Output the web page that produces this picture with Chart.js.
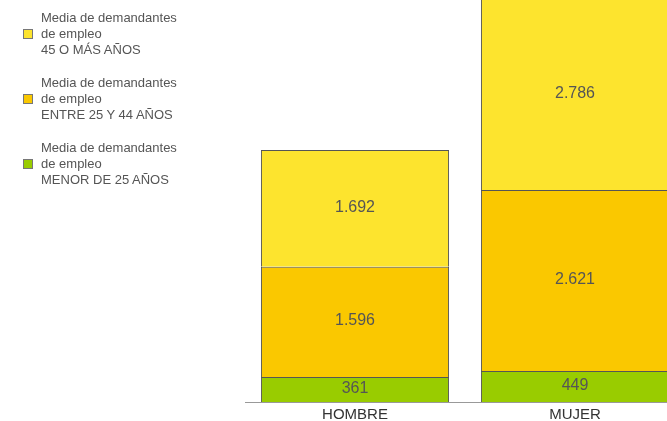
<!DOCTYPE html>
<html>
<head>
<meta charset="utf-8">
<script src="https://cdn.jsdelivr.net/npm/chart.js@4.4.1/dist/chart.umd.min.js"></script>
<style>
  html, body { margin: 0; padding: 0; overflow: hidden; background: #fff; }
  #wrap { position: relative; width: 667px; height: 421px; overflow: hidden; }
  #chart { position: absolute; left: 0; top: 0; }
  #legend { position: absolute; left: 0; top: 0; font-family: "Liberation Sans", Arial, sans-serif; font-size: 13px; color: #555; }
  .item { position: absolute; left: 41px; line-height: 16px; white-space: nowrap; }
  .box { position: absolute; left: -18px; top: 19px; width: 8px; height: 8px; border: 1px solid #777; }
</style>
</head>
<body>
<div id="wrap">
  <canvas id="chart" width="685" height="421"></canvas>
  <div id="legend"></div>
</div>
<script>
const categories = ['HOMBRE', 'MUJER'];
const seriesNames = [
  ['Media de demandantes', 'de empleo', 'MENOR DE 25 AÑOS'],
  ['Media de demandantes', 'de empleo', 'ENTRE 25 Y 44 AÑOS'],
  ['Media de demandantes', 'de empleo', '45 O MÁS AÑOS']
];
const menor25 = [361, 449];
const entre25y44 = [1596, 2621];
const mas45 = [1692, 2786];
const colors = ['#99CC00', '#FAC800', '#FDE42E'];

const seriesValues = [menor25, entre25y44, mas45];

function fmt(v) {
  return String(v).replace(/\B(?=(\d{3})+(?!\d))/g, '.');
}

// legend, top to bottom = reverse of stack order
const legend = document.getElementById('legend');
[2, 1, 0].forEach((s, k) => {
  const item = document.createElement('div');
  item.className = 'item';
  item.style.top = (10 + k * 65) + 'px';
  item.innerHTML = seriesNames[s].join('<br>');
  const box = document.createElement('span');
  box.className = 'box';
  box.style.background = colors[s];
  item.appendChild(box);
  legend.appendChild(item);
});

const valueLabels = {
  id: 'valueLabels',
  afterDatasetsDraw(chart) {
    const { ctx, chartArea } = chart;
    ctx.save();
    ctx.font = '16px "Liberation Sans", Arial, sans-serif';
    ctx.fillStyle = '#555';
    ctx.textAlign = 'center';
    ctx.textBaseline = 'middle';
    chart.data.datasets.forEach((ds, i) => {
      chart.getDatasetMeta(i).data.forEach((bar, j) => {
        const top = Math.max(bar.y, chartArea.top);
        ctx.fillText(fmt(ds.data[j]), bar.x, (top + bar.base) / 2 - 1);
      });
    });
    ctx.restore();
  }
};

new Chart(document.getElementById('chart'), {
  type: 'bar',
  data: {
    labels: categories,
    datasets: seriesValues.map((vals, i) => ({
      label: seriesNames[i].join(' '),
      data: vals,
      backgroundColor: colors[i],
      borderColor: '#555',
      borderWidth: 1,
      barPercentage: 0.855,
      categoryPercentage: 1
    }))
  },
  options: {
    responsive: false,
    animation: false,
    layout: { padding: { left: 245, right: 0, top: 0, bottom: 0 } },
    plugins: { legend: { display: false }, tooltip: { enabled: false } },
    scales: {
      x: {
        stacked: true,
        offset: true,
        grid: { display: false, drawTicks: false },
        border: { display: true, color: '#999', width: 1 },
        ticks: { color: '#333', padding: 4, font: { family: 'Liberation Sans', size: 15 } },
        afterFit: (s) => { s.height = 19; }
      },
      y: {
        stacked: true,
        display: false,
        min: 0,
        max: 5820
      }
    }
  },
  plugins: [valueLabels]
});
</script>
</body>
</html>
